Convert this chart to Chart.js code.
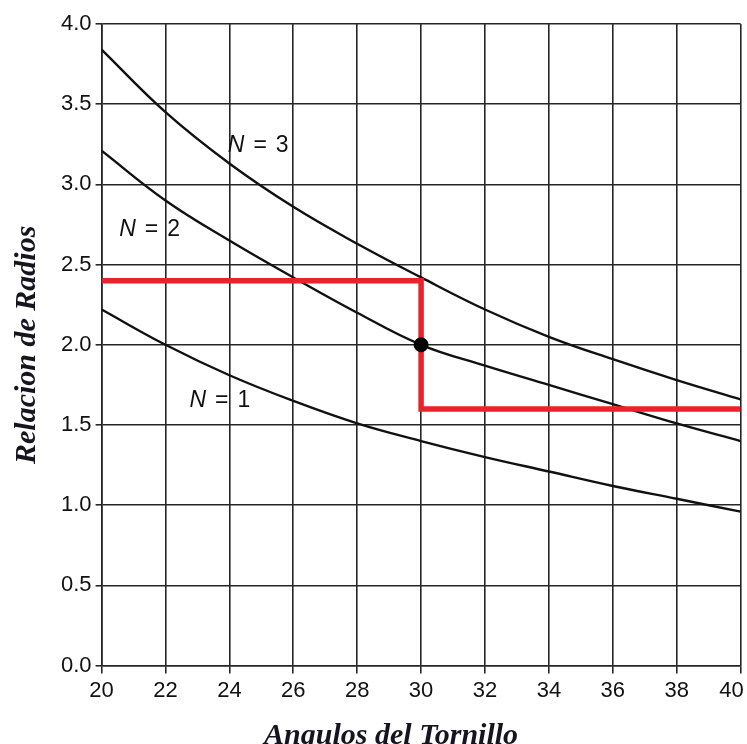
<!DOCTYPE html>
<html>
<head>
<meta charset="utf-8">
<script src="https://cdn.jsdelivr.net/npm/chart.js@4.4.0/dist/chart.umd.min.js"></script>
<style>
  html, body { margin: 0; padding: 0; background: #fff; overflow: hidden; }
  #wrap { position: absolute; left: 0; top: 0; width: 766px; height: 754px; }
</style>
</head>
<body>
<div id="wrap"><canvas id="chart"></canvas></div>
<script>
// angles (x) and radius ratio for each number of threads
var angles = [20, 22, 24, 26, 28, 30, 32, 34, 36, 38, 40];
var ratioN1 = [2.22, 2.00, 1.81, 1.65, 1.51, 1.40, 1.30, 1.21, 1.12, 1.04, 0.96];
var ratioN2 = [3.21, 2.90, 2.65, 2.42, 2.20, 2.00, 1.87, 1.75, 1.63, 1.51, 1.40];
var ratioN3 = [3.84, 3.45, 3.13, 2.86, 2.63, 2.42, 2.22, 2.05, 1.91, 1.78, 1.66];

// red guide: in at 2.4, down at angle 30, out at 1.6
var guideX = [20, 30, 30, 40];
var guideY = [2.4, 2.4, 1.6, 1.6];
var pointX = [30];
var pointY = [2.0];

var curveLabels = ['N = 1', 'N = 2', 'N = 3'];
var labelX = [22.75, 20.55, 23.95];
var labelY = [1.65, 2.72, 3.24];

function toXY(xs, ys) {
    var out = [];
    for (var i = 0; i < xs.length; i++) out.push({x: xs[i], y: ys[i]});
    return out;
}

function curve(ys) {
    return {
        data: toXY(angles, ys),
        borderColor: '#111',
        borderWidth: 2.4,
        pointRadius: 0,
        tension: 0.4,
        showLine: true,
        order: 2
    };
}

// draws "N = k" text with italic N
var curveLabelPlugin = {
    id: 'curveLabels',
    afterDatasetsDraw: function (chart) {
        var ctx = chart.ctx;
        var xs = chart.scales.x, ys = chart.scales.y;
        ctx.save();
        ctx.fillStyle = '#111';
        ctx.textBaseline = 'middle';
        for (var i = 0; i < curveLabels.length; i++) {
            var px = xs.getPixelForValue(labelX[i]);
            var py = ys.getPixelForValue(labelY[i]);
            var parts = curveLabels[i].split(' ');
            ctx.font = 'italic 23px "Liberation Sans", Arial, sans-serif';
            ctx.fillText(parts[0], px, py);
            px += ctx.measureText(parts[0]).width + 9;
            ctx.font = '23px "Liberation Sans", Arial, sans-serif';
            ctx.fillText(parts[1], px, py);
            px += ctx.measureText(parts[1]).width + 9;
            ctx.fillText(parts[2], px, py);
        }
        ctx.restore();
    }
};

var tickFont = { family: '"Liberation Sans", Arial, sans-serif', size: 22 };
var titleFont = { family: '"Liberation Serif", "Times New Roman", serif', size: 30, style: 'italic', weight: 'bold' };
// the x title sits a little left of the plot centre in the original
var xTitle = 'Angulos del Tornillo' + '\u00a0'.repeat(8);

var ctx = document.getElementById('chart').getContext('2d');
var chart = new Chart(ctx, {
    type: 'scatter',
    data: {
        datasets: [
            curve(ratioN1),
            curve(ratioN2),
            curve(ratioN3),
            {
                data: toXY(guideX, guideY),
                borderColor: '#e8232b',
                borderWidth: 5.5,
                pointRadius: 0,
                showLine: true,
                tension: 0,
                order: 1
            },
            {
                data: toXY(pointX, pointY),
                backgroundColor: '#000',
                borderColor: '#000',
                pointRadius: 7,
                showLine: false,
                order: 0
            }
        ]
    },
    options: {
        responsive: true,
        maintainAspectRatio: false,
        animation: false,
        layout: { padding: { top: 24, right: 0, left: 9, bottom: 0 } },
        plugins: {
            legend: { display: false },
            tooltip: { enabled: false }
        },
        scales: {
            x: {
                type: 'linear',
                min: 20, max: 40,
                ticks: {
                    stepSize: 2,
                    color: '#111',
                    font: tickFont,
                    padding: 4,
                    // last label is pulled in from the right edge
                    callback: function (v) { return v === 40 ? '40\u00a0\u00a0\u00a0' : String(v); }
                },
                grid: { color: '#262626', lineWidth: 1.6, tickLength: 8 },
                border: { color: '#262626', width: 1.6 },
                title: {
                    display: true,
                    text: xTitle,
                    color: '#151520',
                    font: titleFont,
                    padding: { top: 10, bottom: 0 }
                }
            },
            y: {
                min: 0, max: 4,
                ticks: {
                    stepSize: 0.5,
                    color: '#111',
                    font: tickFont,
                    padding: 4,
                    callback: function (v) { return v.toFixed(1); }
                },
                grid: { color: '#262626', lineWidth: 1.6, tickLength: 6 },
                border: { color: '#262626', width: 1.6 },
                title: {
                    display: true,
                    text: 'Relacion de Radios',
                    color: '#151520',
                    font: titleFont,
                    padding: { top: 0, bottom: 12 }
                }
            }
        }
    },
    plugins: [curveLabelPlugin]
});
</script>
</body>
</html>
